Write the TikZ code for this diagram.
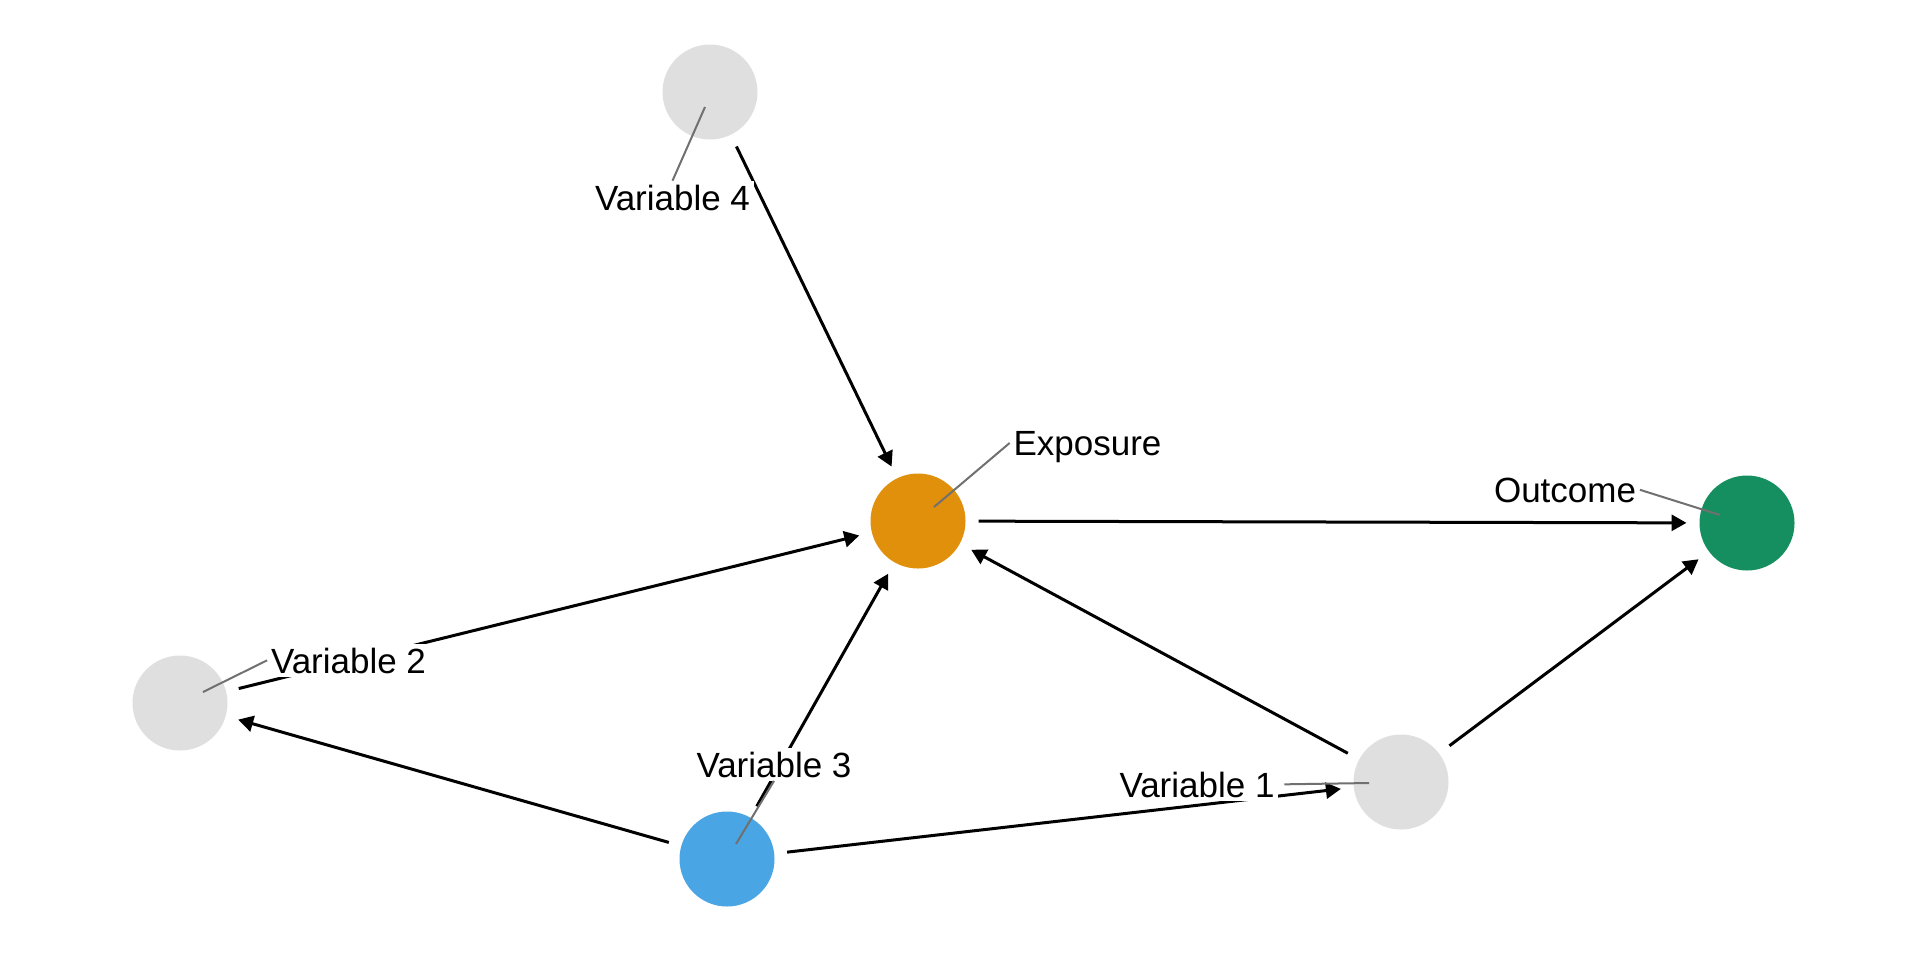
\documentclass[tikz,border=0pt]{standalone}
\usepackage{fontspec}
\setmainfont{Liberation Sans}
\usetikzlibrary{arrows.meta}
\definecolor{expcol}{HTML}{E0900B}
\definecolor{outcol}{HTML}{168F60}
\definecolor{v3col}{HTML}{49A5E3}
\definecolor{nodegrey}{HTML}{DFDFDF}
\definecolor{segcol}{HTML}{707070}
\tikzset{
  dagnode/.style={circle, minimum size=47.5pt, inner sep=0pt, outer sep=6.5pt},
  edge/.style={line width=1.5pt, -{Triangle[length=7.5pt,width=8pt]}},
  labseg/.style={line width=1pt, draw=segcol},
  lab/.style={fill=white, inner sep=1.75pt, text depth=0pt, anchor=base,
    font=\fontsize{17.5}{21}\selectfont},
}
\begin{document}
\begin{tikzpicture}[x=0.5pt, y=-0.5pt]
\useasboundingbox (0,0) rectangle (1920,960);
% nodes
\node[dagnode, fill=nodegrey] (v4) at (710,92) {};
\node[dagnode, fill=expcol] (ex) at (918,521) {};
\node[dagnode, fill=outcol] (out) at (1747,523) {};
\node[dagnode, fill=nodegrey] (v2) at (180,703) {};
\node[dagnode, fill=v3col] (v3) at (727,859) {};
\node[dagnode, fill=nodegrey] (v1) at (1401,782) {};
% edges
\draw[edge] (v4) -- (ex);
\draw[edge] (ex) -- (out);
\draw[edge] (v2) -- (ex);
\draw[edge] (v3) -- (ex);
\draw[edge] (v1) -- (ex);
\draw[edge] (v1) -- (out);
\draw[edge] (v3) -- (v2);
\draw[edge] (v3) -- (v1);
% label points
\coordinate (p4) at (705,107);
\coordinate (pE) at (934,507);
\coordinate (pO) at (1720,515);
\coordinate (p2) at (203,692);
\coordinate (p3) at (736,844);
\coordinate (p1) at (1369,783);
% labels
\node[lab] (l4) at (672.5,210) {Variable 4};
\node[lab] (lE) at (1087.5,455) {Exposure};
\node[lab] (lO) at (1565,502) {Outcome};
\node[lab] (l2) at (348.5,673) {Variable 2};
\node[lab] (l3) at (774,777) {Variable 3};
\node[lab] (l1) at (1197,797) {Variable 1};
% label segments
\draw[labseg] (l4.north) -- (p4);
\draw[labseg] (lE.west) -- (pE);
\draw[labseg] (lO.east) -- (pO);
\draw[labseg] (l2.west) -- (p2);
\draw[labseg] (l3.south) -- (p3);
\draw[labseg] ([xshift=3pt]l1.east) -- (p1);
\end{tikzpicture}
\end{document}
